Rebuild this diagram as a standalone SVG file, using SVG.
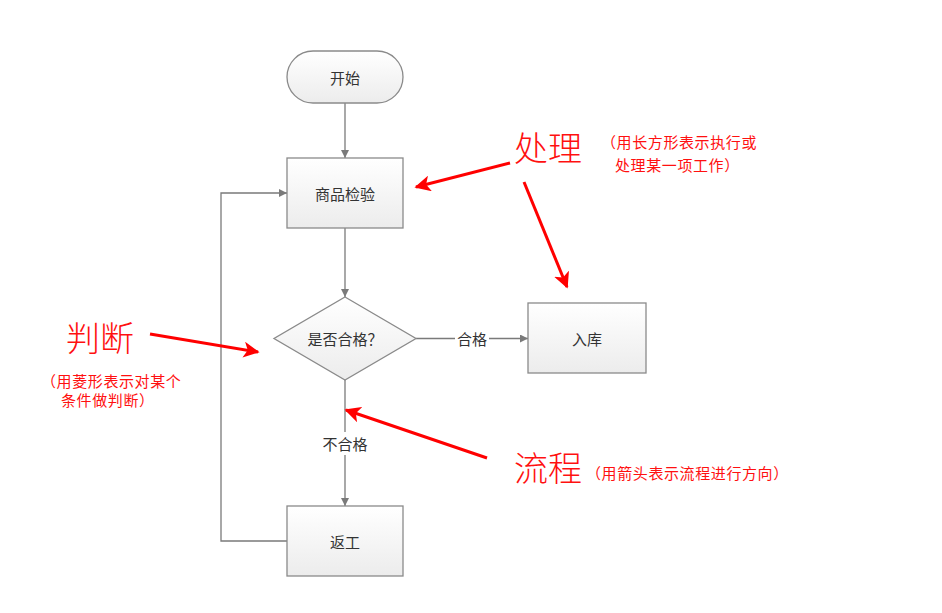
<svg xmlns="http://www.w3.org/2000/svg" width="942" height="613" viewBox="0 0 942 613">
<style>
.node{stroke:#8a8a8a;stroke-width:1.3;fill:url(#g)}
.lbl{font-family:"Noto Sans CJK SC","Liberation Sans",sans-serif;font-size:15px;fill:#333;text-anchor:middle;dominant-baseline:central}
.con{stroke:#7a7a7a;stroke-width:1.3;fill:none}
.red{stroke:#ff0000;stroke-width:3;fill:none}
.big{font-family:"Noto Sans CJK SC",sans-serif;font-weight:300;font-size:34px;fill:#ff1010}
.sm{font-family:"Noto Sans CJK SC",sans-serif;font-size:15px;letter-spacing:0.6px;fill:#ff1010}
</style>
<defs>
<linearGradient id="g" x1="0" y1="0" x2="0" y2="1">
<stop offset="0" stop-color="#ffffff"/>
<stop offset="1" stop-color="#ececec"/>
</linearGradient>
<marker id="ah" viewBox="0 0 10 10" refX="10" refY="5" markerWidth="8" markerHeight="8" markerUnits="userSpaceOnUse" orient="auto">
<path d="M0,0 L10,5 L0,10 z" fill="#7a7a7a"/>
</marker>
<marker id="ra" viewBox="0 0 10 10" refX="9" refY="5" markerWidth="16" markerHeight="16" markerUnits="userSpaceOnUse" orient="auto">
<path d="M0,0 L10,5 L0,10 L2.5,5 z" fill="#ff0000"/>
</marker>
</defs>
<rect width="942" height="613" fill="#fff"/>
<g id="connectors">
<path class="con" d="M345,103 V158" marker-end="url(#ah)"/>
<path class="con" d="M345,228 V297" marker-end="url(#ah)"/>
<path class="con" d="M416,338.5 H455"/>
<path class="con" d="M489,338.5 H528" marker-end="url(#ah)"/>
<text class="lbl" x="472" y="338.5">合格</text>
<path class="con" d="M345,380 V432"/>
<path class="con" d="M345,455 V506" marker-end="url(#ah)"/>
<text class="lbl" x="345" y="443">不合格</text>
<path class="con" d="M287,541 H221 V193 H287" marker-end="url(#ah)"/>
</g>
<g id="start">
<rect class="node" x="287" y="51" width="116" height="52" rx="26"/>
<text class="lbl" x="345" y="77">开始</text>
</g>
<g id="inspect">
<rect class="node" x="287" y="158" width="116" height="70"/>
<text class="lbl" x="345" y="193">商品检验</text>
</g>
<g id="decision">
<path class="node" d="M345,297 L416,338.5 L345,380 L274,338.5 z"/>
<text class="lbl" x="345" y="338.5">是否合格？</text>
</g>
<g id="store">
<rect class="node" x="528" y="303" width="118" height="70"/>
<text class="lbl" x="587" y="338">入库</text>
</g>
<g id="rework">
<rect class="node" x="287" y="506" width="116" height="70"/>
<text class="lbl" x="345" y="541">返工</text>
</g>
<g id="annotations">
<path class="red" d="M510,163 L416,187" marker-end="url(#ra)"/>
<path class="red" d="M524,182 L567,287" marker-end="url(#ra)"/>
<path class="red" d="M150,334 L258,352" marker-end="url(#ra)"/>
<path class="red" d="M487,458 L346,410" marker-end="url(#ra)"/>
<text class="big" x="514" y="161">处理</text>
<text class="sm" x="601" y="148">（用长方形表示执行或</text>
<text class="sm" x="615" y="171">处理某一项工作）</text>
<text class="big" x="66" y="351">判断</text>
<text class="sm" x="41" y="387">（用菱形表示对某个</text>
<text class="sm" x="61" y="406">条件做判断）</text>
<text class="big" x="514" y="481">流程</text>
<text class="sm" x="586" y="479">（用箭头表示流程进行方向）</text>
</g>
</svg>
